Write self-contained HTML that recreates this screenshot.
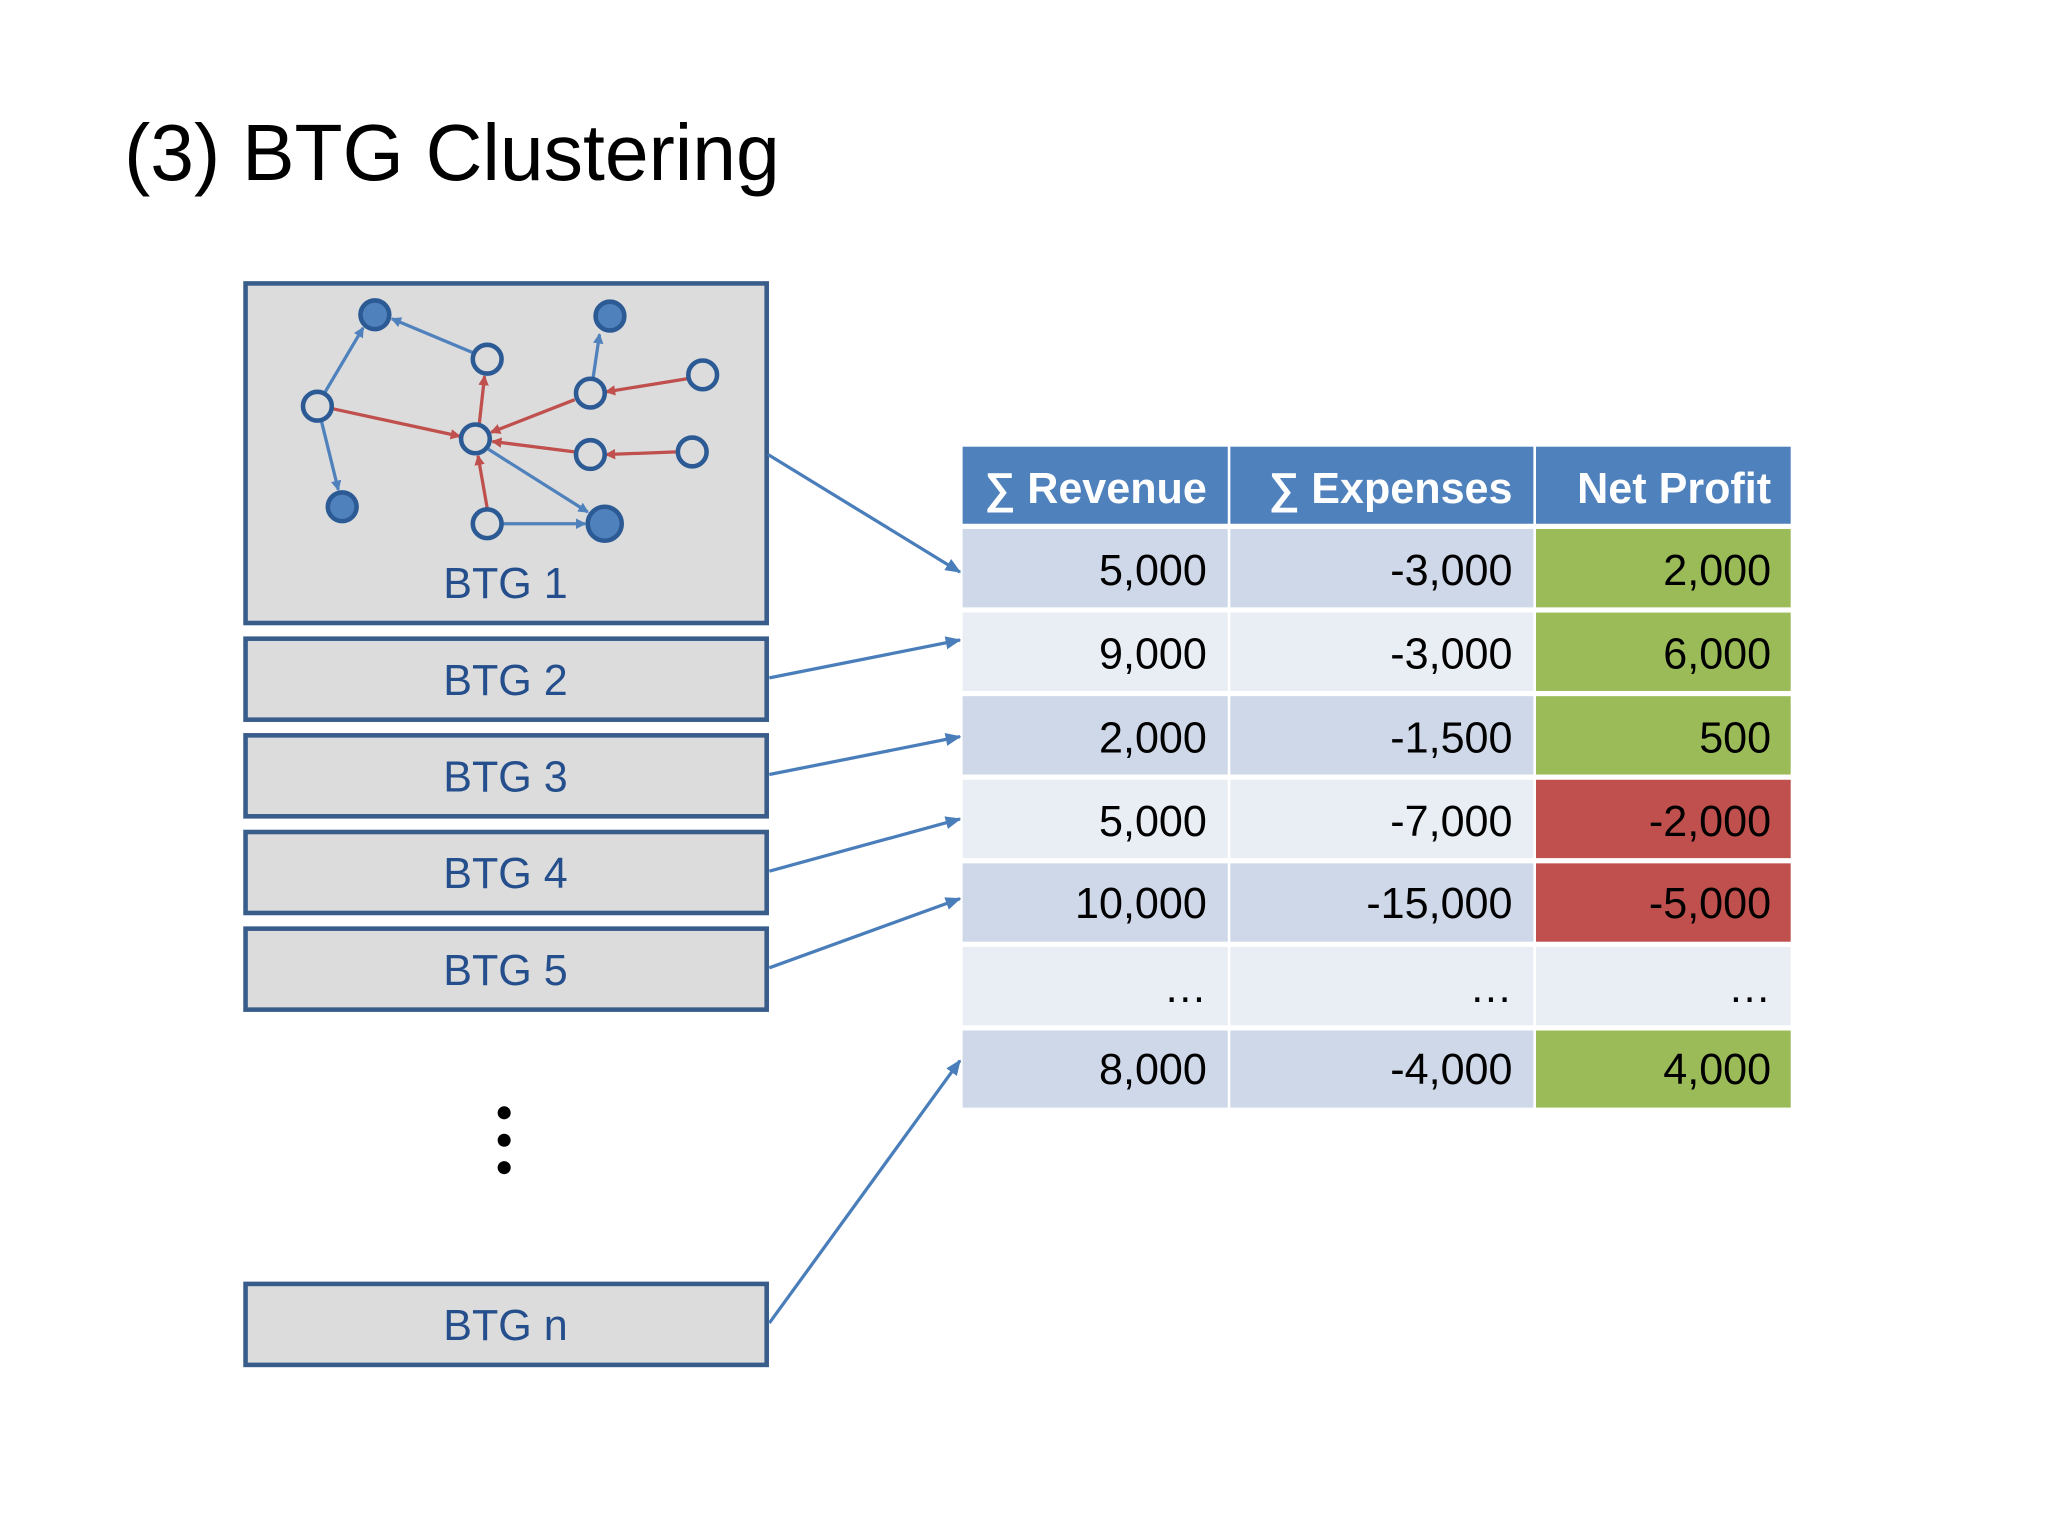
<!DOCTYPE html>
<html><head><meta charset="utf-8"><style>html,body{margin:0;padding:0;background:#fff}svg{display:block}</style></head><body>
<svg width="2048" height="1536" viewBox="0 0 1568 1176" xmlns="http://www.w3.org/2000/svg" font-family="'Liberation Sans', sans-serif">
<defs>
<marker id="ab" markerWidth="8" markerHeight="8" refX="7" refY="4" orient="auto" markerUnits="userSpaceOnUse"><path d="M0,0 L8,4 L0,8 z" fill="#4f81bd"/></marker>
<marker id="ar" markerWidth="8" markerHeight="8" refX="7" refY="4" orient="auto" markerUnits="userSpaceOnUse"><path d="M0,0 L8,4 L0,8 z" fill="#c0504d"/></marker>
<marker id="ac" markerWidth="12" markerHeight="12" refX="11" refY="6" orient="auto" markerUnits="userSpaceOnUse"><path d="M0,1 L12,6 L0,11 z" fill="#4a7ebb"/></marker>
</defs>
<text x="95" y="138" font-size="61" fill="#000" textLength="502" lengthAdjust="spacingAndGlyphs">(3) BTG Clustering</text>
<g fill="#dcdcdc" stroke="#385d8a" stroke-width="3.5">
<rect x="188" y="217" width="399" height="260"/>
<rect x="188" y="489" width="399" height="62"/>
<rect x="188" y="563" width="399" height="62"/>
<rect x="188" y="637" width="399" height="62"/>
<rect x="188" y="711" width="399" height="62"/>
<rect x="188" y="983" width="399" height="62"/>
</g>
<g fill="#254f8c" font-size="33" text-anchor="middle">
<text x="387" y="458">BTG 1</text>
<text x="387" y="532">BTG 2</text>
<text x="387" y="606">BTG 3</text>
<text x="387" y="680">BTG 4</text>
<text x="387" y="754">BTG 5</text>
<text x="387" y="1026">BTG n</text>
</g>
<g fill="#000"><circle cx="386" cy="852" r="5"/><circle cx="386" cy="873" r="5"/><circle cx="386" cy="894" r="5"/></g>
<g stroke-width="2.5" fill="none">
<line x1="249" y1="300" x2="278" y2="251" stroke="#4f81bd" marker-end="url(#ab)"/>
<line x1="362" y1="270" x2="300" y2="244" stroke="#4f81bd" marker-end="url(#ab)"/>
<line x1="246" y1="322" x2="259" y2="375" stroke="#4f81bd" marker-end="url(#ab)"/>
<line x1="454" y1="290" x2="459" y2="256" stroke="#4f81bd" marker-end="url(#ab)"/>
<line x1="374" y1="344" x2="450" y2="392" stroke="#4f81bd" marker-end="url(#ab)"/>
<line x1="385" y1="401" x2="448" y2="401" stroke="#4f81bd" marker-end="url(#ab)"/>
<line x1="255" y1="313" x2="352" y2="334" stroke="#c0504d" marker-end="url(#ar)"/>
<line x1="367" y1="324" x2="371" y2="288" stroke="#c0504d" marker-end="url(#ar)"/>
<line x1="440" y1="306" x2="376" y2="331" stroke="#c0504d" marker-end="url(#ar)"/>
<line x1="526" y1="290" x2="464" y2="300" stroke="#c0504d" marker-end="url(#ar)"/>
<line x1="440" y1="346" x2="377" y2="338" stroke="#c0504d" marker-end="url(#ar)"/>
<line x1="518" y1="346" x2="464" y2="348" stroke="#c0504d" marker-end="url(#ar)"/>
<line x1="373" y1="389" x2="366" y2="349" stroke="#c0504d" marker-end="url(#ar)"/>
</g>
<g stroke="#2c5a94" stroke-width="3.5">
<g fill="#4f81bd">
<circle cx="287" cy="241" r="11"/><circle cx="467" cy="242" r="11"/><circle cx="262" cy="388" r="11"/><circle cx="463" cy="401" r="13"/>
</g>
<g fill="#dcdcdc">
<circle cx="373" cy="275" r="11"/><circle cx="243" cy="311" r="11"/><circle cx="452" cy="301" r="11"/><circle cx="538" cy="287" r="11"/>
<circle cx="364" cy="336" r="11"/><circle cx="452" cy="348" r="11"/><circle cx="530" cy="346" r="11"/><circle cx="373" cy="401" r="11"/>
</g>
</g>
<g stroke="#4a7ebb" stroke-width="2.5" fill="none">
<line x1="588" y1="348" x2="735" y2="438" marker-end="url(#ac)"/>
<line x1="589" y1="519" x2="735" y2="490" marker-end="url(#ac)"/>
<line x1="589" y1="593" x2="735" y2="564" marker-end="url(#ac)"/>
<line x1="589" y1="667" x2="735" y2="627" marker-end="url(#ac)"/>
<line x1="589" y1="741" x2="735" y2="688" marker-end="url(#ac)"/>
<line x1="589" y1="1013" x2="735" y2="812" marker-end="url(#ac)"/>
</g>
<g>
<rect x="737" y="342" width="203" height="59" fill="#4f81bd"/>
<rect x="942" y="342" width="232" height="59" fill="#4f81bd"/>
<rect x="1176" y="342" width="195" height="59" fill="#4f81bd"/>
<g fill="#fff" font-size="33" font-weight="bold" text-anchor="end">
<text x="924" y="385">∑ Revenue</text>
<text x="1158" y="385">∑ Expenses</text>
<text x="1356" y="385">Net Profit</text>
</g>
<g>
<rect x="737" y="405" width="203" height="60" fill="#cfd8e8"/><rect x="942" y="405" width="232" height="60" fill="#cfd8e8"/><rect x="1176" y="405" width="195" height="60" fill="#9bbb59"/>
<rect x="737" y="469" width="203" height="60" fill="#e9edf4"/><rect x="942" y="469" width="232" height="60" fill="#e9edf4"/><rect x="1176" y="469" width="195" height="60" fill="#9bbb59"/>
<rect x="737" y="533" width="203" height="60" fill="#cfd8e8"/><rect x="942" y="533" width="232" height="60" fill="#cfd8e8"/><rect x="1176" y="533" width="195" height="60" fill="#9bbb59"/>
<rect x="737" y="597" width="203" height="60" fill="#e9edf4"/><rect x="942" y="597" width="232" height="60" fill="#e9edf4"/><rect x="1176" y="597" width="195" height="60" fill="#c0504d"/>
<rect x="737" y="661" width="203" height="60" fill="#cfd8e8"/><rect x="942" y="661" width="232" height="60" fill="#cfd8e8"/><rect x="1176" y="661" width="195" height="60" fill="#c0504d"/>
<rect x="737" y="725" width="203" height="60" fill="#e9edf4"/><rect x="942" y="725" width="232" height="60" fill="#e9edf4"/><rect x="1176" y="725" width="195" height="60" fill="#e9edf4"/>
<rect x="737" y="789" width="203" height="59" fill="#cfd8e8"/><rect x="942" y="789" width="232" height="59" fill="#cfd8e8"/><rect x="1176" y="789" width="195" height="59" fill="#9bbb59"/>
</g>
<g fill="#000" font-size="33" text-anchor="end">
<text x="924" y="448">5,000</text><text x="1158" y="448">-3,000</text><text x="1356" y="448">2,000</text>
<text x="924" y="512">9,000</text><text x="1158" y="512">-3,000</text><text x="1356" y="512">6,000</text>
<text x="924" y="576">2,000</text><text x="1158" y="576">-1,500</text><text x="1356" y="576">500</text>
<text x="924" y="640">5,000</text><text x="1158" y="640">-7,000</text><text x="1356" y="640">-2,000</text>
<text x="924" y="703">10,000</text><text x="1158" y="703">-15,000</text><text x="1356" y="703">-5,000</text>
<text x="924" y="767">…</text><text x="1158" y="767">…</text><text x="1356" y="767">…</text>
<text x="924" y="830">8,000</text><text x="1158" y="830">-4,000</text><text x="1356" y="830">4,000</text>
</g>
</g>
</svg>
</body></html>
